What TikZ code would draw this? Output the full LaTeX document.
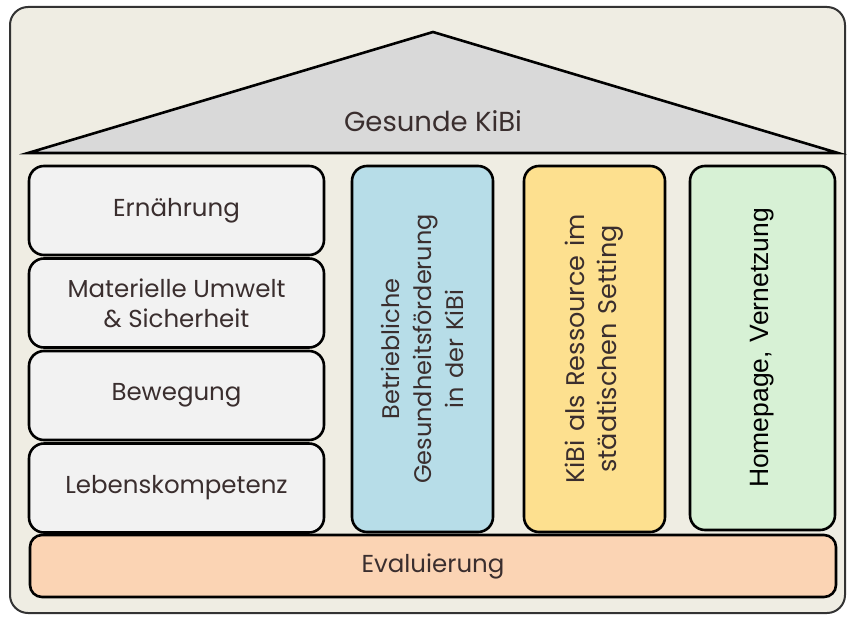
\documentclass[tikz,border=0pt]{standalone}
\usepackage{fontspec}
\setmainfont{Poppins}
\newfontfamily\arialfont{Liberation Sans}
\usetikzlibrary{calc}

\definecolor{frameBg}{HTML}{EFEDE3}
\definecolor{roofGray}{HTML}{D9D9D9}
\definecolor{boxGray}{HTML}{F2F2F2}
\definecolor{colBlue}{HTML}{B7DDE8}
\definecolor{colYellow}{HTML}{FDE08F}
\definecolor{colGreen}{HTML}{D7F1D5}
\definecolor{baseOrange}{HTML}{FBD4B4}
\definecolor{textBrown}{HTML}{3A2E2E}

\tikzset{
  brick/.style={draw=black, line width=2.6pt, rounded corners=15pt, inner sep=0pt,
    minimum width=295pt, minimum height=89pt, fill=boxGray, text=textBrown,
    align=center, font=\fontsize{24.5}{30}\selectfont},
  pillar/.style={brick, rotate=90, minimum width=366pt, minimum height=141pt,
    text width=330pt, font=\fontsize{24}{32}\selectfont},
}

\begin{document}
\begin{tikzpicture}[x=1pt, y=-1pt]
\useasboundingbox (0,0) rectangle (850,618);
\draw[fill=frameBg, draw=black!80, line width=2pt, rounded corners=18pt] (10,7) rectangle (845,613);

% roof
\coordinate (roofL) at (28,153);
\coordinate (roofT) at (433,32);
\coordinate (roofR) at (838,153);
\draw[fill=roofGray, line width=2.6pt, line join=miter] (roofL) -- (roofT) -- (roofR) -- cycle;
\node[text=textBrown, font=\fontsize{27.5}{32}\selectfont] (roofTitle) at (433,121) {Gesunde KiBi};

% left bricks
\node[brick] (nutrition) at (176.5,210.5) {Ern\"ahrung};
\node[brick] (environment) at (176.5,303) {Materielle Umwelt\\ \& Sicherheit};
\node[brick] (movement) at (176.5,395.5) {Bewegung};
\node[brick] (lifeSkills) at (176.5,488) {Lebenskompetenz};

% pillars
\node[pillar, fill=colBlue] (workHealth) at (422.5,349) {Betriebliche\\ Gesundheitsf\"orderung\\ in der KiBi};
\node[pillar, fill=colYellow, font=\fontsize{25.5}{32}\selectfont] (resource) at (594.5,349) {KiBi als Ressource im\\ st\"adtischen Setting};
\node[pillar, fill=colGreen, text=black, font=\arialfont\fontsize{26.5}{32}\selectfont,
  minimum width=364pt, minimum height=145pt] (homepage) at (762.5,348) {Homepage, Vernetzung};

% base
\node[brick, fill=baseOrange, minimum width=806pt, minimum height=62pt, rounded corners=12pt] (evaluation) at (433,566) {Evaluierung};
\end{tikzpicture}
\end{document}
